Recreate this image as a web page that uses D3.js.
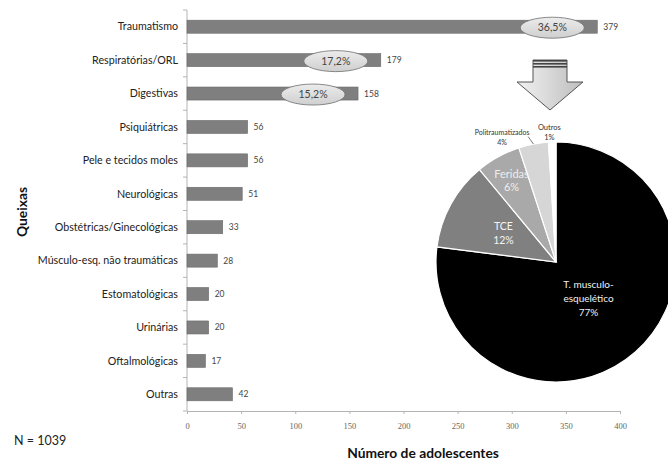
<!DOCTYPE html>
<html>
<head>
<meta charset="utf-8">
<script src="https://cdn.jsdelivr.net/npm/d3@7"></script>
<style>
  html, body { margin: 0; padding: 0; background: #fff; }
  svg { display: block; }
  text { font-family: Lato, "Open Sans", sans-serif; }
</style>
</head>
<body>
<svg id="chart" width="668" height="460"></svg>
<script>
// Queixas (complaints) and number of adolescents per complaint
const categories = [
  "Traumatismo", "Respiratórias/ORL", "Digestivas", "Psiquiátricas",
  "Pele e tecidos moles", "Neurológicas", "Obstétricas/Ginecológicas",
  "Músculo-esq. não traumáticas", "Estomatológicas", "Urinárias",
  "Oftalmológicas", "Outras"
];
const counts = [379, 179, 158, 56, 56, 51, 33, 28, 20, 20, 17, 42];
const total = 1039;
const highlighted = ["Traumatismo", "Respiratórias/ORL", "Digestivas"];
const xTicks = [0, 50, 100, 150, 200, 250, 300, 350, 400];

// Breakdown of the trauma cases
const traumaTypes = ["T. musculo-esquelético", "TCE", "Feridas", "Politraumatizados", "Outros"];
const traumaShares = [77, 12, 6, 4, 1];

const svg = d3.select("#chart");
const defs = svg.append("defs");

const x = d3.scaleLinear().domain([0, 400]).range([187, 620]);
const y = d3.scaleBand().domain(categories).range([10, 411])
  .paddingInner(0.61).paddingOuter(0.305);

// ---- axes ----
const axisColor = "#b4b4b4";
svg.append("line").attr("x1", x(0)).attr("x2", x(0)).attr("y1", 10).attr("y2", 411)
  .attr("stroke", axisColor);
d3.range(categories.length + 1).forEach(i => {
  const yy = 10 + i * y.step();
  svg.append("line").attr("x1", x(0) - 4).attr("x2", x(0)).attr("y1", yy).attr("y2", yy)
    .attr("stroke", axisColor);
});

const xAxis = svg.append("g").attr("transform", "translate(0,411)")
  .call(d3.axisBottom(x).tickValues(xTicks).tickSize(3).tickPadding(9));
xAxis.select(".domain").attr("stroke", axisColor);
xAxis.selectAll(".tick line").attr("stroke", axisColor);
xAxis.selectAll(".tick text").attr("fill", "#666")
  .style("font-family", "'Liberation Serif', serif").style("font-size", "8.5px");

// ---- category labels ----
svg.append("g").selectAll("text").data(categories).join("text")
  .attr("x", 178).attr("y", d => y(d) + y.bandwidth() / 2)
  .attr("dy", "0.35em").attr("text-anchor", "end")
  .attr("fill", "#222").style("font-size", "10.7px").text(d => d);

// ---- bars ----
const rows = categories.map((c, i) => ({ c, v: counts[i] }));
svg.append("g").selectAll("rect").data(rows).join("rect")
  .attr("x", x(0)).attr("y", d => y(d.c))
  .attr("width", d => x(d.v) - x(0)).attr("height", y.bandwidth())
  .attr("fill", "#7f7f7f").attr("stroke", "#6a6a6a").attr("stroke-width", 0.6);

svg.append("g").selectAll("text").data(rows).join("text")
  .attr("x", d => x(d.v) + 6).attr("y", d => y(d.c) + y.bandwidth() / 2)
  .attr("dy", "0.35em").attr("fill", "#444").style("font-size", "8.5px")
  .text(d => d.v);

// ---- percentage callouts on the three largest groups ----
const eg = defs.append("linearGradient").attr("id", "ellFill")
  .attr("x1", 0).attr("y1", 0).attr("x2", 0).attr("y2", 1);
eg.append("stop").attr("offset", "0%").attr("stop-color", "#ececec");
eg.append("stop").attr("offset", "100%").attr("stop-color", "#cfcfcf");

const pctFmt = d3.formatLocale({ decimal: ",", thousands: ".", grouping: [3], currency: ["", "€"] }).format(".1f");
const callouts = rows.filter(d => highlighted.includes(d.c));
const cg = svg.append("g").selectAll("g").data(callouts).join("g")
  .attr("transform", d => `translate(${x(d.v) - 45},${y(d.c) + y.bandwidth() / 2 + 1})`);
cg.append("ellipse").attr("rx", 32).attr("ry", 10.5)
  .attr("fill", "url(#ellFill)").attr("stroke", "#6e6e6e").attr("stroke-width", 0.8);
cg.append("text").attr("text-anchor", "middle").attr("dy", "0.35em")
  .attr("fill", "#444").style("font-size", "10.5px")
  .text(d => pctFmt(d.v / total * 100) + "%");

// ---- arrow pointing to the trauma breakdown ----
const ag = defs.append("linearGradient").attr("id", "arrowFill")
  .attr("x1", 0).attr("y1", 0).attr("x2", 1).attr("y2", 0);
ag.append("stop").attr("offset", "0%").attr("stop-color", "#f2f2f2");
ag.append("stop").attr("offset", "100%").attr("stop-color", "#bdbdbd");

const ax = 550, aTop = 60;
const arrow = d3.path();
arrow.moveTo(ax - 17, aTop);
arrow.lineTo(ax + 17, aTop);
arrow.lineTo(ax + 17, aTop + 22);
arrow.lineTo(ax + 33, aTop + 22);
arrow.lineTo(ax, aTop + 50);
arrow.lineTo(ax - 33, aTop + 22);
arrow.lineTo(ax - 17, aTop + 22);
arrow.closePath();
svg.append("path").attr("d", arrow.toString())
  .attr("fill", "url(#arrowFill)").attr("stroke", "#555").attr("stroke-width", 1)
  .attr("stroke-linejoin", "miter");
[0, 3, 6].forEach(o => {
  svg.append("rect").attr("x", ax - 17).attr("y", aTop + o).attr("width", 34).attr("height", 1.6)
    .attr("fill", "#444");
});

// ---- pie of trauma types ----
const cx = 556, cy = 262, r = 120;
const pieData = d3.pie().sort(null)(traumaShares);
const pieFill = ["#000000", "#808080", "#a9a9a9", "#d6d6d6", "#ffffff"];
const arc = d3.arc().innerRadius(0).outerRadius(r);
const pg = svg.append("g").attr("transform", `translate(${cx},${cy})`);
pg.selectAll("path").data(pieData).join("path")
  .attr("d", arc).attr("fill", (d, i) => pieFill[i])
  .attr("stroke", "#fff").attr("stroke-width", 1.2);

// label placement: fraction of the radius for each slice
const labelRadius = [0.41, 0.5, 0.77, 1.13, 1.08];
const labelLines = [
  ["T. musculo-", "esquelético", "77%"],
  ["TCE", "12%"],
  ["Feridas", "6%"],
  ["Politraumatizados", "4%"],
  ["Outros", "1%"]
];
const labelFill = ["#f2f2f2", "#f4f4f4", "#eeeeee", "#333", "#333"];
const labelSize = [10, 10.5, 11, 7, 7.5];
const lineH = [14, 14, 13, 9.5, 9.5];
const angleShift = [0, 0, 0, -0.22, -0.02];

pieData.forEach((d, i) => {
  const a = (d.startAngle + d.endAngle) / 2 + angleShift[i];
  const lr = r * labelRadius[i];
  const px = Math.sin(a) * lr, py = -Math.cos(a) * lr;
  const lines = labelLines[i];
  const t = pg.append("text").attr("text-anchor", "middle")
    .attr("fill", labelFill[i]).style("font-size", labelSize[i] + "px");
  lines.forEach((ln, k) => {
    t.append("tspan").attr("x", px)
      .attr("y", py + (k - (lines.length - 1) / 2) * lineH[i])
      .attr("dy", "0.35em").text(ln);
  });
});

// leader line for the small Politraumatizados slice
{
  const d = pieData[3];
  const a = (d.startAngle + d.endAngle) / 2;
  pg.append("line")
    .attr("x1", Math.sin(a) * r * 1.0).attr("y1", -Math.cos(a) * r * 1.0)
    .attr("x2", Math.sin(a - 0.03) * r * 1.07).attr("y2", -Math.cos(a - 0.03) * r * 1.07)
    .attr("stroke", "#555").attr("stroke-width", 0.8);
}

// ---- titles ----
svg.append("text").attr("x", 423).attr("y", 458).attr("text-anchor", "middle")
  .attr("fill", "#111").style("font-size", "13.8px").style("font-weight", "bold")
  .text("Número de adolescentes");
svg.append("text").attr("transform", "translate(27,212) rotate(-90)")
  .attr("text-anchor", "middle").attr("fill", "#111")
  .style("font-size", "13.8px").style("font-weight", "bold").text("Queixas");
svg.append("text").attr("x", 14).attr("y", 445).attr("fill", "#222")
  .style("font-size", "12.5px").text("N = " + total);
</script>
</body>
</html>
